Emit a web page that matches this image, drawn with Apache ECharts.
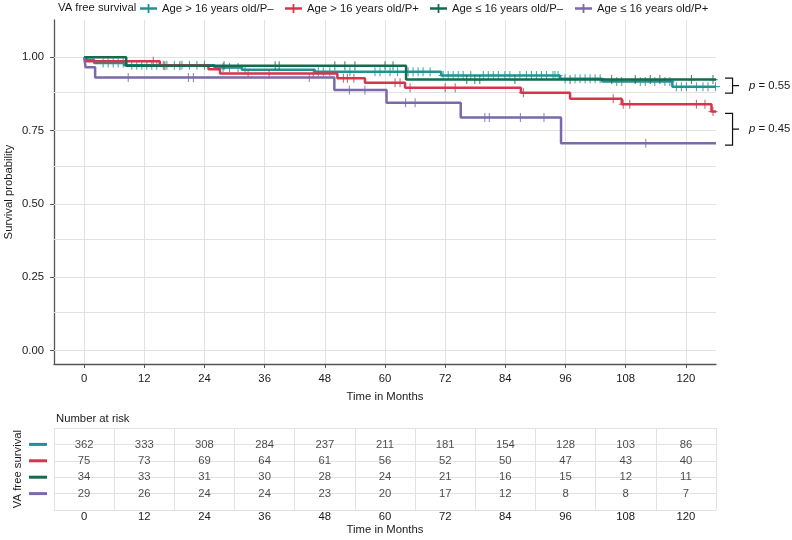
<!DOCTYPE html>
<html><head><meta charset="utf-8">
<script src="https://cdn.jsdelivr.net/npm/echarts@6/dist/echarts.min.js"></script>
<style>html,body{margin:0;padding:0;background:#fff}#c{width:792px;height:540px}</style>
</head><body><div id="c"></div>
<script>
// ---------- data ----------
const groupNames = ['Age > 16 years old/P–', 'Age > 16 years old/P+', 'Age ≤ 16 years old/P–', 'Age ≤ 16 years old/P+'];
const groupColors = ['#1E9294', '#D5364B', '#156B4E', '#7B69AB'];

// Kaplan-Meier steps (time in months, survival after that time)
const tealTimes = [0, 0.5, 2, 8, 26, 31.5, 46, 71.2, 94.9, 103.3, 117.3, 126];
const tealSurv  = [1, 0.992, 0.981, 0.973, 0.965, 0.958, 0.951, 0.938, 0.927, 0.918, 0.900, 0.900];
const redTimes  = [0, 0.3, 15.1, 24.8, 27.1, 50.5, 56.0, 64.0, 87.1, 96.9, 107.2, 125.1, 126];
const redSurv   = [1, 0.987, 0.973, 0.959, 0.945, 0.929, 0.913, 0.896, 0.879, 0.859, 0.840, 0.815, 0.815];
const greenTimes = [0, 8.4, 64.2, 126];
const greenSurv  = [1, 0.971, 0.924, 0.924];
const purpleTimes = [0, 0.3, 2.2, 49.9, 60.3, 75.1, 95.1, 126];
const purpleSurv  = [1, 0.966, 0.931, 0.889, 0.845, 0.795, 0.707, 0.707];

// censoring times
const tealCensor = [3.8, 4.8, 5.8, 6.8, 7.8, 9.5, 10.5, 11.5, 12.5, 13.5, 14.5, 16.5, 18, 19.5, 21, 22.5, 24,
  27.7, 29, 30.7, 32.1, 46.7, 47.7, 49.0, 53, 58, 59, 61, 62.5, 64.6, 65.6, 66.6, 67.6, 69.0, 71.6, 72.6,
  73.6, 74.6, 75.6, 77.1, 79.6, 80.6, 81.6, 82.6, 83.9, 84.9, 86.9, 88.2, 89.2, 90.2, 91.2, 92.2, 93.5,
  93.9, 94.5, 95.9, 97.9, 98.9, 99.9, 100.9, 101.9, 102.9, 106.2, 107.2, 110.9, 111.9, 113.8, 115.8, 116.8,
  118.1, 119.1, 120.1, 122.1, 123.4, 124.4, 125.9];
const redCensor = [13.8, 15.8, 32.7, 36.9, 45.7, 51.7, 52.5, 53.8, 62.0, 63.0, 65.0, 72.0, 74.0, 87.6,
  105.5, 107.5, 108.8, 122.1, 123.8, 125.4];
const greenCensor = [16.1, 19.1, 27.9, 38.1, 38.9, 50.0, 52.0, 54.0, 60.0, 61.6, 76.3, 77.9, 78.9, 85.9,
  96.9, 105.2, 109.9, 112.9, 114.8, 121.1, 125.4];
const purpleCensor = [8.8, 20.8, 21.8, 44.9, 52.9, 56.0, 64.1, 66.0, 79.9, 80.8, 87.0, 91.7, 112.0];

// number at risk
const riskTimes = [0, 12, 24, 36, 48, 60, 72, 84, 96, 108, 120];
const tealRisk   = [362, 333, 308, 284, 237, 211, 181, 154, 128, 103, 86];
const redRisk    = [75, 73, 69, 64, 61, 56, 52, 50, 47, 43, 40];
const greenRisk  = [34, 33, 31, 30, 28, 24, 21, 16, 15, 12, 11];
const purpleRisk = [29, 26, 24, 24, 23, 20, 17, 12, 8, 8, 7];

// axis ticks
const xTickLabels = [0, 12, 24, 36, 48, 60, 72, 84, 96, 108, 120];
const yTickLabels = [0, 0.25, 0.5, 0.75, 1.0];

// log-rank p values and the survival range each bracket spans
const pValues = ['0.55', '0.45'];
const bracketTop = [0.929, 0.809];
const bracketBottom = [0.878, 0.701];

// ---------- build ----------
const FONT = 'Liberation Sans, Arial, Helvetica, sans-serif';
const FS = 11.3;
const TXT = '#1a1a1a';
const GRIDC = '#e2e2e2';
const XMIN = -6, XMAX = 126;

const allTimes = [tealTimes, redTimes, greenTimes, purpleTimes];
const allSurv = [tealSurv, redSurv, greenSurv, purpleSurv];
const allCensor = [tealCensor, redCensor, greenCensor, purpleCensor];
const allRisk = [tealRisk, redRisk, greenRisk, purpleRisk];

function survAt(times, surv, t) {
  let s = surv[0];
  for (let i = 0; i < times.length; i++) { if (times[i] <= t) s = surv[i]; }
  return s;
}

const plusPath = 'path://M-0.12,-1H0.12V-0.12H1V0.12H0.12V1H-0.12V0.12H-1V-0.12H-0.12Z';
const legendIcon = 'path://M0,3.3H17V5.7H0Z M7.6,0H9.4V9H7.6Z';

const series = [];
// horizontal gridlines (main panel) via markLine on the y scale
const yGrid = [];
for (let v = 0; v <= 1.1251; v += 0.125) yGrid.push({ yAxis: +v.toFixed(3) });
series.push({
  type: 'line', xAxisIndex: 0, yAxisIndex: 0, data: [], silent: true, z: 1,
  markLine: { silent: true, z: 1, symbol: ['none', 'none'], animation: false, label: { show: false },
    lineStyle: { color: GRIDC, width: 1, type: 'solid' }, data: yGrid }
});

for (let g = 0; g < 4; g++) {
  series.push({
    name: groupNames[g], type: 'line', step: 'end', xAxisIndex: 0, yAxisIndex: 0,
    data: allTimes[g].map((t, i) => [t, allSurv[g][i]]),
    showSymbol: false, symbol: 'none', color: groupColors[g],
    lineStyle: { width: 2.5, color: groupColors[g] }, z: 3 + g, animation: false
  });
  series.push({
    name: 'censor' + g, type: 'scatter', xAxisIndex: 0, yAxisIndex: 0,
    data: allCensor[g].map(t => [t, survAt(allTimes[g], allSurv[g], t)]),
    symbol: plusPath, symbolSize: 9, itemStyle: { color: groupColors[g] }, z: 3 + g, animation: false, silent: true
  });
}

// p-value brackets, drawn through the axis scales
series.push({
  type: 'custom', xAxisIndex: 0, yAxisIndex: 0, clip: false, silent: true, animation: false, z: 10,
  data: pValues.map((p, k) => [XMAX, (bracketTop[k] + bracketBottom[k]) / 2, k]),
  encode: { x: 0, y: 1 },
  renderItem: function (params, api) {
    const k = api.value(2);
    const a = XMAX + 1.8, b = XMAX + 3.3, c = XMAX + 4.6;
    const top = bracketTop[k], bot = bracketBottom[k], mid = (top + bot) / 2;
    const pts = [[a, top], [b, top], [b, mid], [c, mid], [b, mid], [b, bot], [a, bot]].map(p => api.coord(p));
    const tp = api.coord([c, mid]);
    return { type: 'group', children: [
      { type: 'polyline', shape: { points: pts }, style: { stroke: '#111', lineWidth: 1.2, fill: null } },
      { type: 'text', x: tp[0] + 10, y: tp[1], style: {
          text: '{i|p} = ' + pValues[k], fill: TXT, fontFamily: FONT, fontSize: FS, verticalAlign: 'middle', align: 'left',
          rich: { i: { fontStyle: 'italic', fontFamily: FONT, fontSize: FS, fill: TXT } } } }
    ] };
  }
});

// risk table numbers
for (let g = 0; g < 4; g++) {
  series.push({
    type: 'scatter', xAxisIndex: 1, yAxisIndex: 1, symbolSize: 0, silent: true, animation: false,
    data: riskTimes.map((t, i) => [t, g + 1, allRisk[g][i]]),
    label: { show: true, position: 'inside', formatter: p => String(p.value[2]), color: TXT, fontFamily: FONT, fontSize: FS }
  });
}

const richBars = {};
for (let g = 0; g < 4; g++) richBars['g' + g] = { backgroundColor: groupColors[g], width: 18, height: 3, lineHeight: 3, fontSize: 1 };

const legends = [140, 285, 430, 575].map((left, g) => ({
  left: left, top: 3, data: [{ name: groupNames[g], icon: legendIcon }], itemWidth: 17, itemHeight: 9,
  selectedMode: false, textStyle: { fontFamily: FONT, fontSize: FS, color: TXT }, padding: 0
}));

const axisTxt = { fontFamily: FONT, fontSize: FS, color: TXT };

const option = {
  backgroundColor: '#fff',
  animation: false,
  title: [
    { text: 'VA free survival', left: 58, top: 2, padding: 0, textStyle: { fontFamily: FONT, fontSize: FS, fontWeight: 'normal', color: TXT } },
    { text: 'Number at risk', left: 56, top: 413, padding: 0, textStyle: { fontFamily: FONT, fontSize: FS, fontWeight: 'normal', color: TXT } }
  ],
  legend: legends,
  grid: [
    { left: 54, top: 20, width: 662, height: 344, containLabel: false, outerBoundsMode: 'none' },
    { left: 54, top: 428, width: 662, height: 82, containLabel: false, outerBoundsMode: 'none' }
  ],
  xAxis: [
    { type: 'value', gridIndex: 0, min: XMIN, max: XMAX, interval: 6,
      name: 'Time in Months', nameLocation: 'middle', nameGap: 27, nameMoveOverlap: false, nameTextStyle: axisTxt,
      axisLine: { show: true, onZero: false, lineStyle: { color: '#555', width: 1.3 } },
      axisTick: { show: true, length: 4, customValues: xTickLabels, lineStyle: { color: '#555', width: 1 } },
      axisLabel: Object.assign({ customValues: xTickLabels, margin: 9 }, axisTxt),
      splitLine: { show: true, lineStyle: { color: GRIDC, width: 1 } } },
    { type: 'value', gridIndex: 1, min: XMIN, max: XMAX, interval: 12,
      name: 'Time in Months', nameLocation: 'middle', nameGap: 14, nameMoveOverlap: false, nameTextStyle: axisTxt,
      axisLine: { show: false }, axisTick: { show: false },
      axisLabel: Object.assign({ customValues: xTickLabels, margin: 1 }, axisTxt),
      splitLine: { show: true, lineStyle: { color: GRIDC, width: 1 } } }
  ],
  yAxis: [
    { type: 'value', gridIndex: 0, min: -0.0453, max: 1.1272,
      name: 'Survival probability', nameLocation: 'middle', nameGap: 40, nameMoveOverlap: false, nameTextStyle: axisTxt,
      axisLine: { show: true, onZero: false, lineStyle: { color: '#555', width: 1.3 } },
      axisTick: { show: true, length: 4, customValues: yTickLabels, lineStyle: { color: '#555', width: 1 } },
      axisLabel: Object.assign({ customValues: yTickLabels, margin: 10, formatter: v => v.toFixed(2) }, axisTxt),
      splitLine: { show: false } },
    { type: 'value', gridIndex: 1, min: 0, max: 5, interval: 1, inverse: true,
      name: 'VA free survival', nameLocation: 'middle', nameGap: 31, nameMoveOverlap: false, nameTextStyle: axisTxt,
      axisLine: { show: false }, axisTick: { show: false },
      axisLabel: { margin: 7, formatter: v => (v >= 1 && v <= 4) ? '{g' + (v - 1) + '| }' : '', rich: richBars },
      splitLine: { show: true, lineStyle: { color: GRIDC, width: 1 } } }
  ],
  series: series
};

const chart = echarts.init(document.getElementById('c'), null, { renderer: 'canvas' });
chart.setOption(option);
</script>
</body></html>
